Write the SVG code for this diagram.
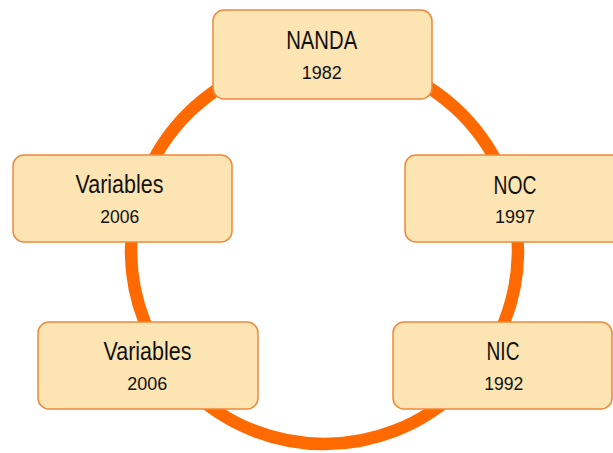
<svg xmlns="http://www.w3.org/2000/svg" width="613" height="453" viewBox="0 0 613 453">
<style>
.box{fill:#FDE4B3;stroke:#F0883A;stroke-width:1.5}
.t{font-family:"Liberation Sans",Arial,sans-serif;fill:#111;text-anchor:middle}
.n{font-size:25px}
.y{font-size:19px}
</style>
<rect width="613" height="453" fill="#fff"/>
<g id="connectors">
<circle cx="324.5" cy="250.5" r="193.5" fill="none" stroke="#FF6A00" stroke-width="12.5"/>
</g>
<g id="nanda">
<rect class="box" x="213" y="10" width="219" height="89" rx="11"/>
<text class="t n" x="321.7" y="49" textLength="71" lengthAdjust="spacingAndGlyphs">NANDA</text>
<text class="t y" x="321.7" y="79" textLength="40" lengthAdjust="spacingAndGlyphs">1982</text>
</g>
<g id="variables-top">
<rect class="box" x="13" y="155" width="219" height="87" rx="11"/>
<text class="t n" x="119.5" y="193" textLength="88" lengthAdjust="spacingAndGlyphs">Variables</text>
<text class="t y" x="119.7" y="223" textLength="39" lengthAdjust="spacingAndGlyphs">2006</text>
</g>
<g id="noc">
<rect class="box" x="405" y="155" width="220" height="87" rx="11"/>
<text class="t n" x="515" y="194" textLength="43" lengthAdjust="spacingAndGlyphs">NOC</text>
<text class="t y" x="515" y="223" textLength="40" lengthAdjust="spacingAndGlyphs">1997</text>
</g>
<g id="variables-bottom">
<rect class="box" x="38" y="322" width="220" height="87" rx="11"/>
<text class="t n" x="147.5" y="360" textLength="88" lengthAdjust="spacingAndGlyphs">Variables</text>
<text class="t y" x="147.3" y="390" textLength="40" lengthAdjust="spacingAndGlyphs">2006</text>
</g>
<g id="nic">
<rect class="box" x="393" y="322" width="219" height="87" rx="11"/>
<text class="t n" x="503" y="360" textLength="33" lengthAdjust="spacingAndGlyphs">NIC</text>
<text class="t y" x="503.7" y="390" textLength="39" lengthAdjust="spacingAndGlyphs">1992</text>
</g>
</svg>
